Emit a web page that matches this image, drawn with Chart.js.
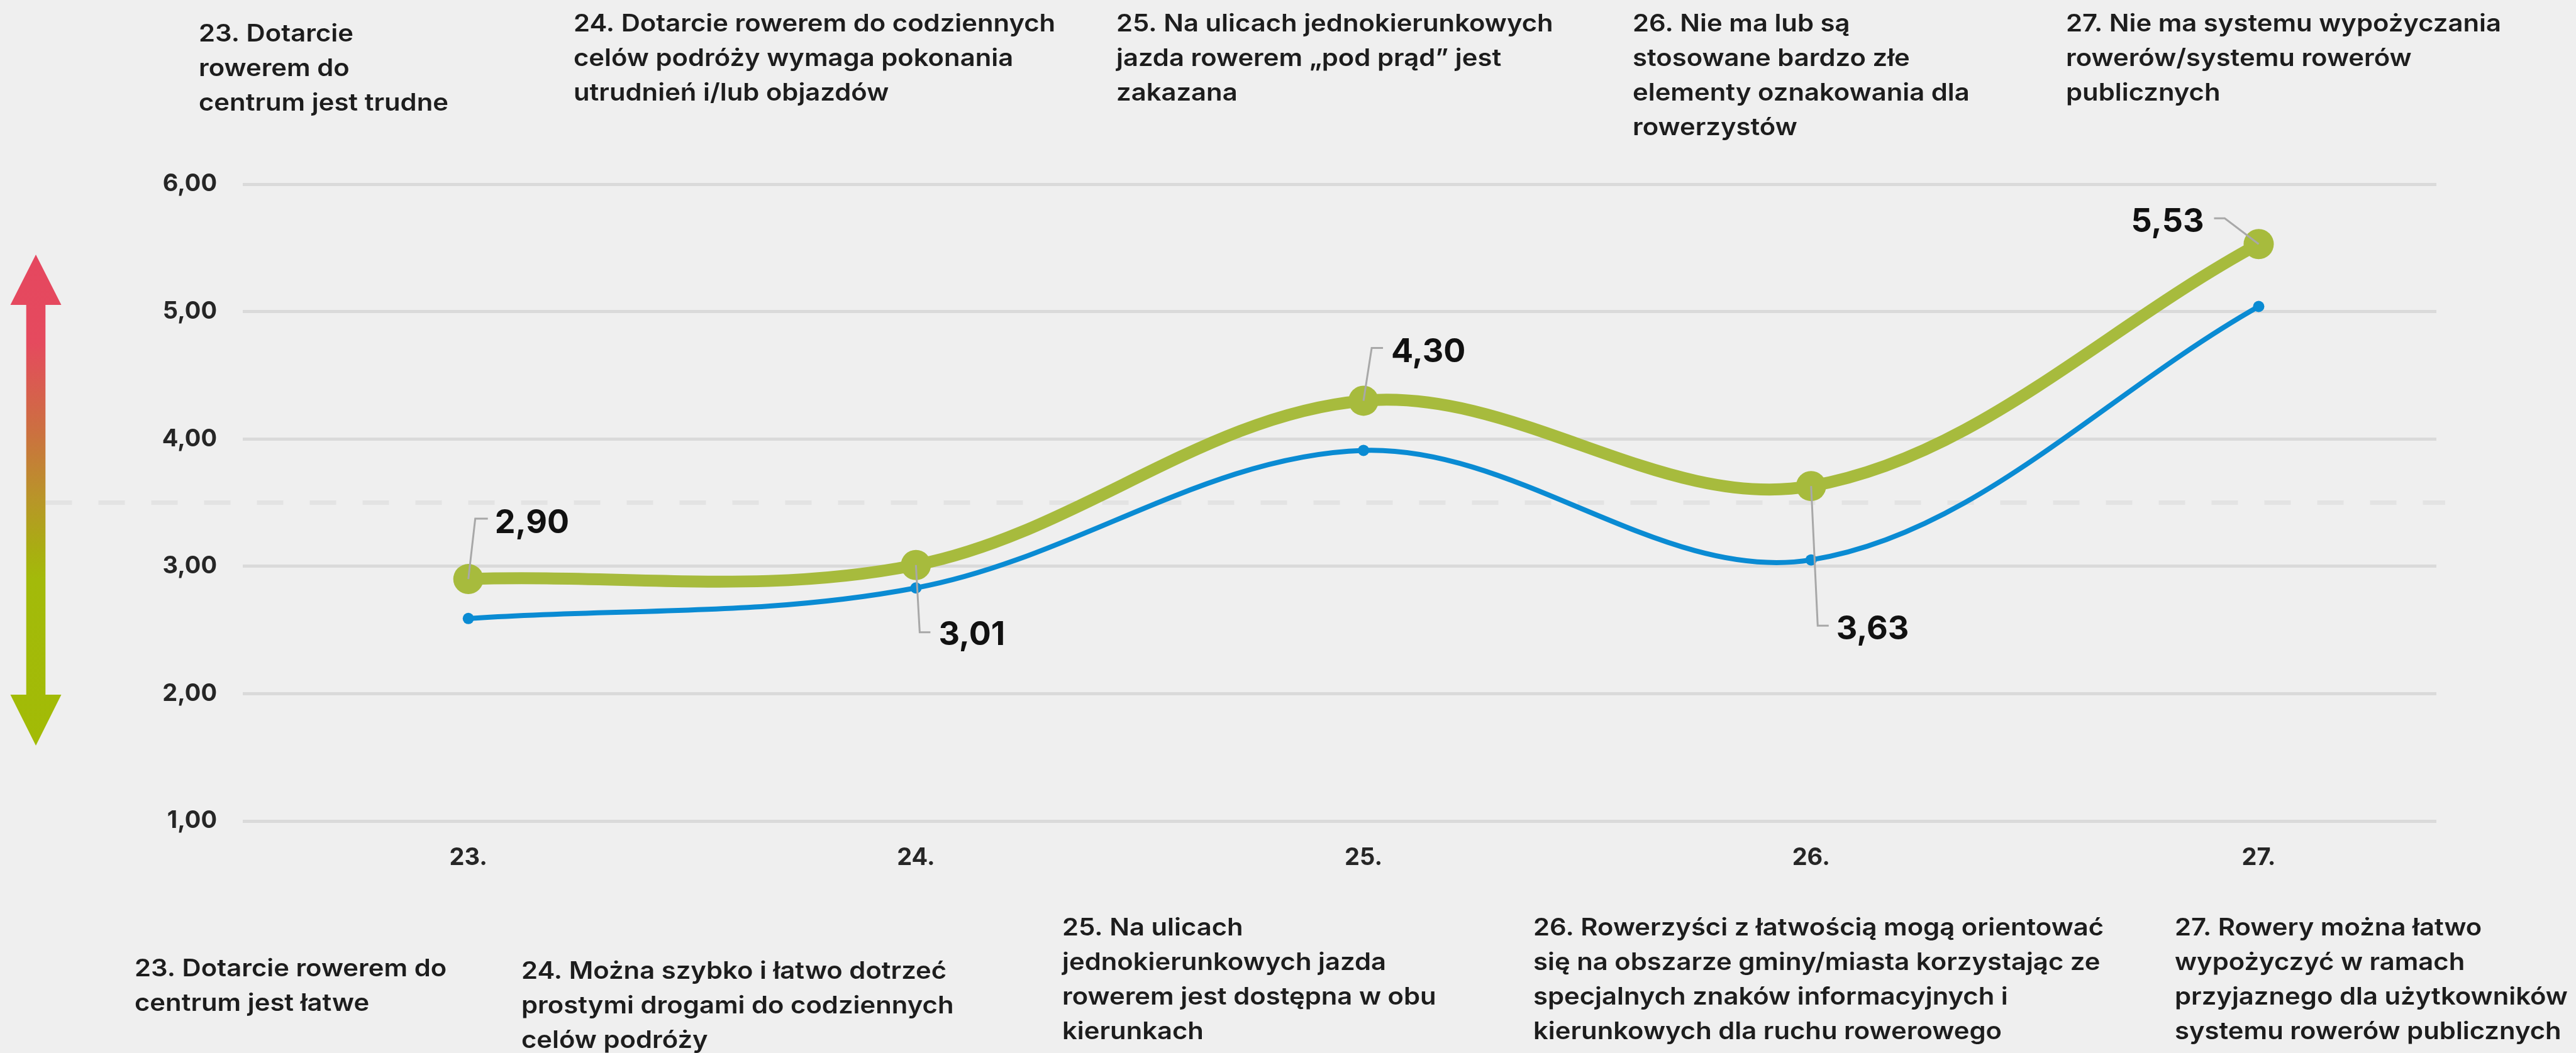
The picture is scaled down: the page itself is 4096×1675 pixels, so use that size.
<!DOCTYPE html>
<html><head><meta charset="utf-8">
<script src="https://cdn.jsdelivr.net/npm/chart.js@4.4.1/dist/chart.umd.min.js"></script>
<style>html,body{margin:0;padding:0;background:#efefef;overflow:hidden}</style>
</head><body>
<canvas id="c" width="4096" height="1675"></canvas>
<script>
// ---------- DATA ----------
const categories = ['23.', '24.', '25.', '26.', '27.'];
const greenValues = [2.90, 3.01, 4.30, 3.63, 5.53];
const blueValues = [2.59, 2.83, 3.91, 3.05, 5.04];
const yTicks = [1, 2, 3, 4, 5, 6];
const midline = 3.5;
const topTexts = [
  ['23. Dotarcie', 'rowerem do', 'centrum jest trudne'],
  ['24. Dotarcie rowerem do codziennych', 'celów podróży wymaga pokonania', 'utrudnień i/lub objazdów'],
  ['25. Na ulicach jednokierunkowych', 'jazda rowerem \u201Epod prąd\u201D jest', 'zakazana'],
  ['26. Nie ma lub są', 'stosowane bardzo złe', 'elementy oznakowania dla', 'rowerzystów'],
  ['27. Nie ma systemu wypożyczania', 'rowerów/systemu rowerów', 'publicznych']
];
const bottomTexts = [
  ['23. Dotarcie rowerem do', 'centrum jest łatwe'],
  ['24. Można szybko i łatwo dotrzeć', 'prostymi drogami do codziennych', 'celów podróży'],
  ['25. Na ulicach', 'jednokierunkowych jazda', 'rowerem jest dostępna w obu', 'kierunkach'],
  ['26. Rowerzyści z łatwością mogą orientować', 'się na obszarze gminy/miasta korzystając ze', 'specjalnych znaków informacyjnych i', 'kierunkowych dla ruchu rowerowego'],
  ['27. Rowery można łatwo', 'wypożyczyć w ramach', 'przyjaznego dla użytkowników', 'systemu rowerów publicznych']
];

// ---------- STYLE ----------
const GREEN = '#a7bb3d';
const BLUE = '#0a8bd3';
const TEXT = '#1d1d1d';
const topPos = [[316, 65.6], [912, 49.8], [1775, 49.8], [2596, 49.8], [3285, 49.8]];
const bottomPos = [[214, 1553], [829, 1557], [1689, 1488], [2438, 1488], [3458, 1488]];
const textLineH = 55;
const textStretch = 1.1;
// leader: [cornerDx, cornerDy, endDx, textDx, textBaselineDy, align]
const leaders = [
  [11, -96, 31, 42, -73, 'left'],
  [6, 107, 23, 36, 127, 'left'],
  [13, -84, 31, 44, -61, 'left'],
  [10.5, 222, 28, 40, 244, 'left'],
  [-54, -41, -71, -87, -19, 'right']
];
const fmt = v => v.toFixed(2).replace('.', ',');

function stretchText(ctx, t, x, y) {
  ctx.save();
  ctx.translate(x, y);
  ctx.scale(textStretch, 1);
  ctx.fillText(t, 0, 0);
  ctx.restore();
}

const decor = {
  id: 'decor',
  beforeDatasetsDraw(chart) {
    const ctx = chart.ctx;
    const y = chart.scales.y.getPixelForValue(midline);
    ctx.save();
    ctx.strokeStyle = '#e3e3e3';
    ctx.lineWidth = 7;
    ctx.setLineDash([42, 42]);
    ctx.beginPath();
    ctx.moveTo(72.5, y);
    ctx.lineTo(3888, y);
    ctx.stroke();
    ctx.restore();

    // gradient double arrow
    ctx.save();
    const cx = 57, sw = 15.3, hw = 40.5, yTop = 405, yTopBase = 485, yBotBase = 1105, yBot = 1186;
    const g = ctx.createLinearGradient(0, yTop, 0, yBot);
    g.addColorStop(0, '#e5475f');
    g.addColorStop(0.18, '#e54a5e');
    g.addColorStop(0.36, '#cc7040');
    g.addColorStop(0.50, '#b89628');
    g.addColorStop(0.60, '#a9ad12');
    g.addColorStop(0.66, '#a3ba0a');
    g.addColorStop(1, '#a2bb06');
    ctx.fillStyle = g;
    ctx.beginPath();
    ctx.moveTo(cx, yTop);
    ctx.lineTo(cx + hw, yTopBase);
    ctx.lineTo(cx + sw, yTopBase);
    ctx.lineTo(cx + sw, yBotBase);
    ctx.lineTo(cx + hw, yBotBase);
    ctx.lineTo(cx, yBot);
    ctx.lineTo(cx - hw, yBotBase);
    ctx.lineTo(cx - sw, yBotBase);
    ctx.lineTo(cx - sw, yTopBase);
    ctx.lineTo(cx - hw, yTopBase);
    ctx.closePath();
    ctx.fill();
    ctx.restore();

    // texts
    ctx.save();
    ctx.fillStyle = TEXT;
    ctx.font = '600 38px Inter';
    ctx.textAlign = 'left';
    ctx.textBaseline = 'alphabetic';
    topTexts.forEach((lines, i) => {
      lines.forEach((t, j) => stretchText(ctx, t, topPos[i][0], topPos[i][1] + j * textLineH));
    });
    bottomTexts.forEach((lines, i) => {
      lines.forEach((t, j) => stretchText(ctx, t, bottomPos[i][0], bottomPos[i][1] + j * textLineH));
    });
    ctx.restore();
  },
  afterDatasetsDraw(chart) {
    const ctx = chart.ctx;
    const meta = chart.getDatasetMeta(0);
    ctx.save();
    meta.data.forEach((pt, i) => {
      const [cdx, cdy, edx, tdx, tdy, al] = leaders[i];
      ctx.strokeStyle = '#a8a8a8';
      ctx.lineWidth = 3;
      ctx.beginPath();
      ctx.moveTo(pt.x, pt.y);
      ctx.lineTo(pt.x + cdx, pt.y + cdy);
      ctx.lineTo(pt.x + edx, pt.y + cdy);
      ctx.stroke();
      ctx.fillStyle = '#111111';
      ctx.font = '700 52px Inter';
      ctx.textAlign = al;
      ctx.textBaseline = 'alphabetic';
      ctx.fillText(fmt(greenValues[i]), pt.x + tdx, pt.y + tdy);
    });
    ctx.restore();
  }
};

const tickFont = { family: 'Inter', weight: '700', size: 38 };

new Chart(document.getElementById('c'), {
  type: 'line',
  data: {
    datasets: [
      {
        label: 'green',
        data: greenValues.map((v, i) => ({ x: i, y: v })),
        borderColor: GREEN, backgroundColor: GREEN,
        pointBackgroundColor: GREEN, pointBorderWidth: 0,
        borderWidth: 19, pointRadius: 24, pointHoverRadius: 24,
        tension: 0.35, order: 0
      },
      {
        label: 'blue',
        data: blueValues.map((v, i) => ({ x: i, y: v })),
        borderColor: BLUE, backgroundColor: BLUE,
        pointBackgroundColor: BLUE, pointBorderWidth: 0,
        borderWidth: 8, pointRadius: 9, pointHoverRadius: 9,
        tension: 0.35, order: 1
      }
    ]
  },
  options: {
    responsive: false,
    animation: false,
    devicePixelRatio: 1,
    layout: { padding: { left: 0, right: 222, top: 293, bottom: 0 } },
    plugins: { legend: { display: false }, tooltip: { enabled: false } },
    scales: {
      x: {
        type: 'linear', min: -0.504, max: 4.397,
        grid: { display: false }, border: { display: false },
        afterBuildTicks: a => { a.ticks = categories.map((c, i) => ({ value: i })); },
        afterFit: a => { a.height = 369; },
        ticks: {
          callback: v => categories[v], padding: 28, font: tickFont, color: '#262626',
          maxRotation: 0, minRotation: 0, autoSkip: false
        }
      },
      y: {
        min: 1, max: 6,
        afterBuildTicks: a => { a.ticks = yTicks.map(v => ({ value: v })); },
        afterFit: a => { a.width = 386; },
        grid: { color: '#dadada', lineWidth: 5, drawTicks: false },
        border: { display: false },
        ticks: { callback: v => fmt(v), padding: 41, font: tickFont, color: '#262626' }
      }
    }
  },
  plugins: [decor]
});
</script>
</body></html>
